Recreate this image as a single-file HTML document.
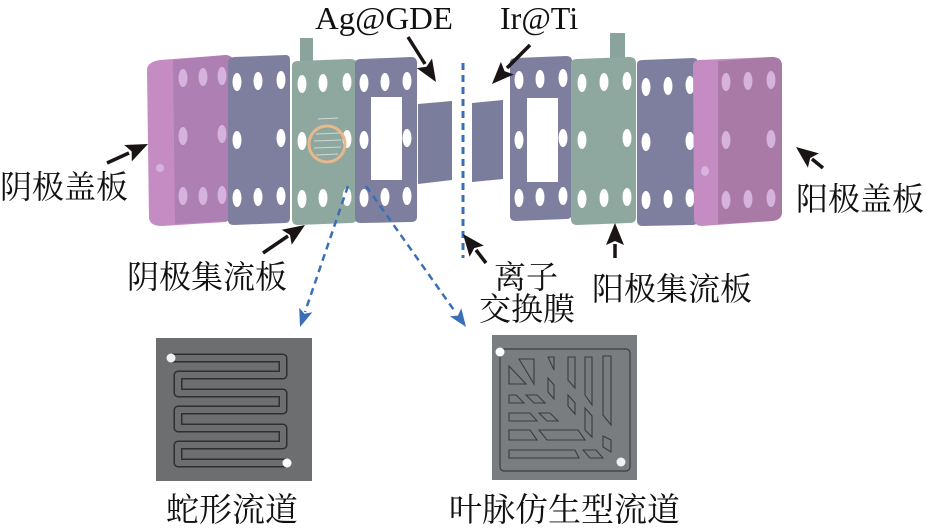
<!DOCTYPE html>
<html><head><meta charset="utf-8"><style>
html,body{margin:0;padding:0;background:#fff;}
svg{display:block}
.t{font-family:"Liberation Serif","Noto Serif CJK SC","Noto Sans CJK SC",serif;fill:#111;}
</style></head><body>
<svg width="927" height="530" viewBox="0 0 927 530" xmlns="http://www.w3.org/2000/svg">

<!-- left cover -->
<path d="M147,70 Q147,62 160,60 L226,55 L232,57 L232,218 L226,222 L162,226 Q150,226 149,218 Z" fill="#c48cc2"/>
<path d="M173,60 L226,55 Q232,55 232,62 L232,216 Q232,221 226,221 L175,224 Z" fill="#ad7fb3"/>
<g fill="#d6b3dc">
<ellipse cx="183" cy="78" rx="4.5" ry="9"/><ellipse cx="203" cy="77" rx="4.5" ry="9"/><ellipse cx="222" cy="76" rx="4.5" ry="9"/>
<ellipse cx="183" cy="136" rx="4.5" ry="9"/><ellipse cx="222" cy="134" rx="4.5" ry="9"/>
<ellipse cx="183" cy="196" rx="4.5" ry="9"/><ellipse cx="203" cy="196" rx="4.5" ry="9"/><ellipse cx="222" cy="195" rx="4.5" ry="9"/>
<ellipse cx="160" cy="168" rx="4" ry="4"/>
</g>

<!-- plate 2 gray -->
<path d="M228,62 Q228,58 234,57 L286,55 Q290,55 290,60 L290,218 Q290,223 285,223 L234,225 Q228,225 228,220 Z" fill="#7e7f9e"/>
<g fill="#fff">
<ellipse cx="237" cy="82" rx="4.5" ry="9"/><ellipse cx="258" cy="81" rx="4.5" ry="9"/><ellipse cx="281" cy="80" rx="4.5" ry="9"/>
<ellipse cx="237" cy="140" rx="4.5" ry="9"/><ellipse cx="281" cy="138" rx="4.5" ry="9"/>
<ellipse cx="237" cy="198" rx="4.5" ry="9"/><ellipse cx="258" cy="197" rx="4.5" ry="9"/><ellipse cx="281" cy="196" rx="4.5" ry="9"/>
</g>

<!-- plate 3 green -->
<rect x="300" y="38" width="13" height="26" fill="#8aa39d"/>
<path d="M292,66 Q292,61 298,61 L350,59 Q357,59 357,65 L357,218 Q357,223 350,223 L298,225 Q292,225 292,219 Z" fill="#8fa89f"/>
<g fill="#fff">
<ellipse cx="302" cy="84" rx="4.5" ry="9"/><ellipse cx="323" cy="83" rx="4.5" ry="9"/><ellipse cx="347" cy="82" rx="4.5" ry="9"/>
<ellipse cx="302" cy="141" rx="4.5" ry="9"/><ellipse cx="347" cy="139" rx="4.5" ry="9"/>
<ellipse cx="302" cy="199" rx="4.5" ry="9"/><ellipse cx="323" cy="198" rx="4.5" ry="9"/><ellipse cx="347" cy="197" rx="4.5" ry="9"/>
</g>
<circle cx="327" cy="144" r="18" fill="none" stroke="#e9b88a" stroke-width="3"/>
<g stroke="#cfd9d4" stroke-width="1">
<line x1="316" y1="134" x2="340" y2="133"/><line x1="314" y1="141" x2="341" y2="140"/><line x1="314" y1="148" x2="341" y2="147"/><line x1="316" y1="155" x2="338" y2="154"/><line x1="318" y1="119" x2="338" y2="118"/>
</g>

<!-- gasket left -->
<path d="M355,64 Q355,59 361,59 L411,57 Q417,57 417,63 L417,217 Q417,222 411,222 L361,223 Q355,223 355,218 Z" fill="#7e7f9e"/>
<rect x="371" y="97" width="31" height="83" fill="#fff"/>
<g fill="#fff">
<ellipse cx="364" cy="83" rx="4.5" ry="9"/><ellipse cx="385" cy="82" rx="4.5" ry="9"/><ellipse cx="407" cy="81" rx="4.5" ry="9"/>
<ellipse cx="364" cy="140" rx="4.5" ry="9"/><ellipse cx="407" cy="138" rx="4.5" ry="9"/>
<ellipse cx="364" cy="198" rx="4.5" ry="9"/><ellipse cx="385" cy="197" rx="4.5" ry="9"/><ellipse cx="407" cy="196" rx="4.5" ry="9"/>
</g>
<!-- GDE -->
<path d="M418,104 L452,101 L452,180 L418,184 Z" fill="#7b7d9c"/>
<!-- membrane -->
<line x1="463" y1="63" x2="463" y2="258" stroke="#3a6fb8" stroke-width="3" stroke-dasharray="7,5"/>
<!-- Ir@Ti -->
<path d="M472,103 L503,100 L503,179 L472,182 Z" fill="#7b7d9c"/>

<!-- gasket right -->
<path d="M510,62 Q510,58 516,58 L566,56 Q572,56 572,61 L572,214 Q572,219 566,219 L516,221 Q510,221 510,216 Z" fill="#7e7f9e"/>
<rect x="527" y="98" width="31" height="84" fill="#fff"/>
<g fill="#fff">
<ellipse cx="519" cy="80" rx="4.5" ry="9"/><ellipse cx="540" cy="79" rx="4.5" ry="9"/><ellipse cx="563" cy="78" rx="4.5" ry="9"/>
<ellipse cx="519" cy="140" rx="4.5" ry="9"/><ellipse cx="563" cy="138" rx="4.5" ry="9"/>
<ellipse cx="519" cy="198" rx="4.5" ry="9"/><ellipse cx="540" cy="197" rx="4.5" ry="9"/><ellipse cx="563" cy="196" rx="4.5" ry="9"/>
</g>

<!-- green right -->
<rect x="610" y="33" width="15" height="28" fill="#8aa39d"/>
<path d="M571,64 Q571,59 577,59 L629,57 Q636,57 636,63 L636,218 Q636,223 629,223 L577,225 Q571,225 571,219 Z" fill="#8fa89f"/>
<g fill="#fff">
<ellipse cx="582" cy="83" rx="4.5" ry="9"/><ellipse cx="604" cy="82" rx="4.5" ry="9"/><ellipse cx="627" cy="81" rx="4.5" ry="9"/>
<ellipse cx="582" cy="140" rx="4.5" ry="9"/><ellipse cx="627" cy="138" rx="4.5" ry="9"/>
<ellipse cx="582" cy="199" rx="4.5" ry="9"/><ellipse cx="604" cy="198" rx="4.5" ry="9"/><ellipse cx="627" cy="197" rx="4.5" ry="9"/>
</g>

<!-- gray right -->
<path d="M637,64 Q637,60 643,60 L693,58 Q698,58 698,63 L698,220 Q698,225 692,225 L643,226 Q637,226 637,221 Z" fill="#7e7f9e"/>
<g fill="#fff">
<ellipse cx="646" cy="87" rx="4.5" ry="9"/><ellipse cx="668" cy="86" rx="4.5" ry="9"/><ellipse cx="690" cy="85" rx="4.5" ry="9"/>
<ellipse cx="646" cy="142" rx="4.5" ry="9"/><ellipse cx="690" cy="141" rx="4.5" ry="9"/>
<ellipse cx="646" cy="200" rx="4.5" ry="9"/><ellipse cx="668" cy="199" rx="4.5" ry="9"/><ellipse cx="690" cy="198" rx="4.5" ry="9"/>
</g>

<!-- right cover -->
<path d="M693,66 Q693,60 700,60 L772,57 Q782,57 782,66 L782,212 Q782,220 772,221 L702,226 Q695,226 694,220 Z" fill="#c48cc2"/>
<path d="M718,61 L772,57 Q782,57 782,66 L782,212 Q782,220 772,221 L718,224 Z" fill="#a97aa6"/>
<g fill="#d6b3dc">
<ellipse cx="726" cy="82" rx="4.5" ry="9"/><ellipse cx="748" cy="81" rx="4.5" ry="9"/><ellipse cx="771" cy="80" rx="4.5" ry="9"/>
<ellipse cx="726" cy="140" rx="4.5" ry="9"/><ellipse cx="771" cy="139" rx="4.5" ry="9"/>
<ellipse cx="726" cy="200" rx="4.5" ry="9"/><ellipse cx="748" cy="199" rx="4.5" ry="9"/><ellipse cx="771" cy="198" rx="4.5" ry="9"/>
<ellipse cx="705" cy="171" rx="4" ry="5"/>
</g>

<!-- black arrows -->
<g stroke="#1a1414" stroke-width="3.5" fill="none">
<line x1="107" y1="163" x2="129" y2="153"/>
<line x1="263" y1="253" x2="288" y2="236"/>
<line x1="486" y1="263" x2="476" y2="250"/>
<line x1="615" y1="258" x2="615" y2="244"/>
<line x1="823" y1="168" x2="812" y2="159"/>
<line x1="408" y1="37" x2="425" y2="64"/>
<line x1="530" y1="45" x2="507" y2="68"/>
</g>
<g fill="#1a1414">
<polygon points="148,144 131.8,161.4 131.7,151.5 124.2,145"/>
<polygon points="305,225 291.7,244.7 290,235 281.7,229.7"/>
<polygon points="463,234 483.8,245.6 474.2,248.1 469.6,256.8"/>
<polygon points="615,223 624,245 615,241 606,245"/>
<polygon points="796,147 818.9,153.4 810.2,158 807.9,167.6"/>
<polygon points="436,82 416.8,68.1 426.5,66.7 432,58.5"/>
<polygon points="492,84 500.9,61.9 504.5,71.1 513.7,74.5"/>
</g>
<!-- blue dashed arrows -->
<g stroke="#3a6fb8" stroke-width="2.5" stroke-dasharray="7,5" fill="none">
<line x1="348" y1="186" x2="305" y2="312"/>
<line x1="366" y1="186" x2="456" y2="313"/>
</g>
<g fill="#3a6fb8">
<polygon points="300,327 299.2,307.7 304.5,313.8 312.4,312.3"/>
<polygon points="466,327 449.9,316.3 457.9,315.6 461.3,308.3"/>
</g>

<!-- labels -->
<text class="t" x="315" y="29" font-size="32" textLength="138" lengthAdjust="spacingAndGlyphs">Ag@GDE</text>
<text class="t" x="500" y="29" font-size="32">Ir@Ti</text>
<text class="t" x="0" y="198" font-size="32">阴极盖板</text>
<text class="t" x="796" y="210" font-size="32">阳极盖板</text>
<text class="t" x="127" y="288" font-size="32">阴极集流板</text>
<text class="t" x="494" y="288" font-size="32">离子</text>
<text class="t" x="479" y="320" font-size="32">交换膜</text>
<text class="t" x="592" y="300" font-size="32">阳极集流板</text>
<text class="t" x="166" y="521" font-size="33">蛇形流道</text>
<text class="t" x="449" y="521" font-size="33">叶脉仿生型流道</text>

<!-- serpentine -->
<rect x="156" y="338" width="156" height="143" fill="#6d6e70"/>
<path d="M171,358 H283 V375 H178 V393 H283 V410 H178 V428 H283 V445 H178 V463 H286" fill="none" stroke="#2e2f31" stroke-width="9" stroke-linejoin="round"/>
<path d="M171,358 H283 V375 H178 V393 H283 V410 H178 V428 H283 V445 H178 V463 H286" fill="none" stroke="#6d6e70" stroke-width="6" stroke-linejoin="round"/>
<circle cx="171" cy="358" r="4.5" fill="#eef0f4"/>
<circle cx="287" cy="463" r="4.5" fill="#fff"/>

<!-- leaf vein -->
<rect x="492" y="335" width="145" height="145" fill="#7a7d80"/>
<rect x="500" y="349" width="130" height="122" rx="4" fill="none" stroke="#3a3c3f" stroke-width="1.2"/>
<g fill="none" stroke="#3a3c3f" stroke-width="1.1">
<polygon points="509,366 509,384 526,384"/>
<polygon points="519,359 534,359 534,384"/>
<polygon points="548,357 554,357 554,370"/>
<polygon points="568,357 575,357 575,388 568,380"/>
<polygon points="585,357 592,357 592,405 585,395"/>
<polygon points="603,356 611,356 611,425 603,415"/>
<polygon points="548,378 554,385 554,399 548,392"/>
<polygon points="568,395 575,403 575,414 568,406"/>
<polygon points="585,408 592,416 592,437 585,430"/>
<polygon points="603,436 611,440 611,452 603,447"/>
<polygon points="509,395 516,395 524,403 509,403"/>
<polygon points="526,395 537,395 545,403 534,403"/>
<polygon points="509,413 530,413 537,421 509,421"/>
<polygon points="539,413 550,413 558,421 547,421"/>
<polygon points="509,430 530,430 537,440 509,440"/>
<polygon points="539,430 578,430 585,440 547,440"/>
<polygon points="509,450 575,450 579,458 509,458"/>
<polygon points="583,450 596,450 603,458 590,458"/>
</g>
<circle cx="500" cy="352" r="4.5" fill="#fff"/>
<circle cx="621" cy="462" r="4.5" fill="#eef0f4"/>
</svg>
</body></html>
